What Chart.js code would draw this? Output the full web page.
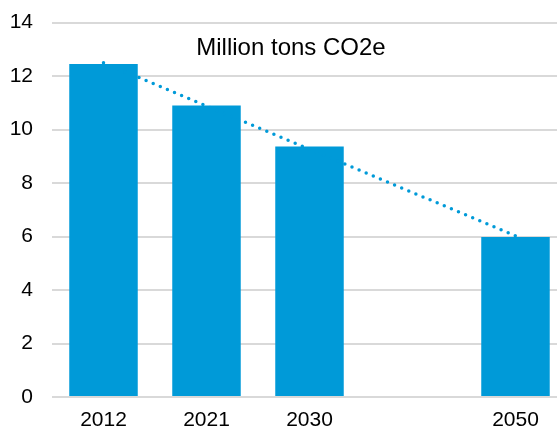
<!DOCTYPE html>
<html>
<head>
<meta charset="utf-8">
<script src="https://cdn.jsdelivr.net/npm/chart.js@4/dist/chart.umd.min.js"></script>
<style>
  html, body { margin: 0; padding: 0; background: #fff; overflow: hidden; }
  #wrap { width: 567px; height: 441px; margin-top: -9px; }
</style>
</head>
<body>
<div id="wrap"><canvas id="chart"></canvas></div>
<script>
const years = ["2012", "2021", "2030", "", "2050"];
const emissions = [12.45, 10.9, 9.37, null, 5.98];
// linear trend, read at its two ends
const trend = [12.5, null, null, null, 6.03];
const yTicks = [0, 2, 4, 6, 8, 10, 12, 14];

const blue = "#009ad8";
const font = "'Liberation Sans', Arial, sans-serif";

// caption sits inside the plot, above the bars
const caption = {
  id: "caption",
  afterDraw(chart) {
    const ctx = chart.ctx;
    ctx.save();
    ctx.font = "24px " + font;
    ctx.fillStyle = "#000";
    ctx.textAlign = "center";
    ctx.textBaseline = "middle";
    ctx.fillText("Million tons CO2e", 291, 57);
    ctx.restore();
  }
};

new Chart(document.getElementById("chart"), {
  type: "bar",
  data: {
    labels: years,
    datasets: [
      {
        type: "line",
        data: trend,
        spanGaps: true,
        borderColor: blue,
        borderWidth: 3.5,
        borderDash: [0, 7.7],
        borderCapStyle: "round",
        pointRadius: 0,
        fill: false,
        order: 0
      },
      {
        data: emissions,
        backgroundColor: blue,
        categoryPercentage: 1,
        barPercentage: 0.665,
        order: 1
      }
    ]
  },
  options: {
    responsive: true,
    maintainAspectRatio: false,
    animation: false,
    layout: { padding: 0 },
    plugins: {
      legend: { display: false },
      tooltip: { enabled: false }
    },
    scales: {
      x: {
        grid: { display: false, drawTicks: false },
        border: { display: false },
        ticks: { color: "#000", font: { family: font, size: 21 }, padding: 11, maxRotation: 0 },
        afterFit: s => { s.height = 35; }
      },
      y: {
        min: 0,
        max: 14,
        afterBuildTicks: s => { s.ticks = yTicks.map(v => ({ value: v })); },
        grid: { color: "#d9d9d9", lineWidth: 2, drawTicks: false },
        border: { display: false },
        ticks: { color: "#000", font: { family: font, size: 21 }, padding: 19 },
        afterFit: s => { s.width = 52; }
      }
    }
  },
  plugins: [caption]
});
</script>
</body>
</html>
